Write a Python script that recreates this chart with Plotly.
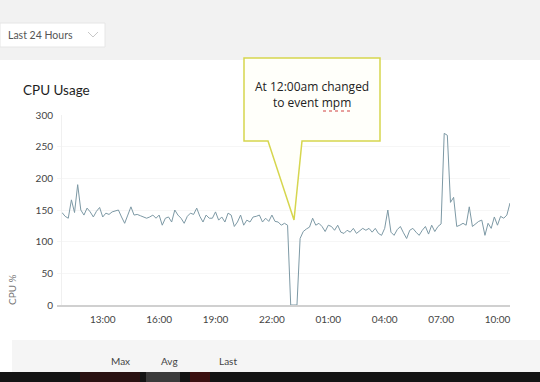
import pandas as pd
import plotly.graph_objects as go

# ---- data ----
start_time = "2019-05-13 10:50"
step = "10min"
cpu_values = [
    146, 140, 137, 166, 146, 190, 150, 142, 153, 147,
    139, 148, 154, 139, 145, 143, 147, 149, 150, 139,
    129, 142, 155, 142, 143, 141, 139, 137, 139, 142,
    137, 142, 126, 137, 139, 131, 150, 142, 137, 129,
    140, 145, 143, 153, 140, 131, 142, 137, 137, 147,
    134, 139, 131, 145, 142, 124, 131, 142, 126, 134,
    131, 139, 140, 142, 131, 137, 132, 142, 132, 131,
    126, 129, 126, 0, 0, 0, 105, 116, 120, 123,
    137, 126, 129, 124, 116, 126, 124, 118, 126, 115,
    113, 118, 115, 121, 113, 117, 121, 118, 121, 115,
    121, 113, 110, 121, 150, 115, 110, 119, 124, 114,
    105, 118, 121, 115, 110, 118, 124, 112, 126, 116,
    124, 128, 271, 268, 162, 170, 124, 126, 129, 126,
    155, 124, 128, 132, 134, 110, 129, 121, 139, 126,
    140, 137, 142, 161,
]
x_tick_times = ["2019-05-13 13:00", "2019-05-13 16:00", "2019-05-13 19:00",
                "2019-05-13 22:00", "2019-05-14 01:00", "2019-05-14 04:00",
                "2019-05-14 07:00", "2019-05-14 10:00"]
x_tick_labels = ["13:00", "16:00", "19:00", "22:00", "01:00", "04:00", "07:00", "10:00"]
y_ticks = [0, 50, 100, 150, 200, 250, 300]
x_range = ["2019-05-13 10:34", "2019-05-14 10:40"]

times = pd.date_range(start=start_time, periods=len(cpu_values), freq=step)

W, H = 540, 382
def px(x):
    return x / W
def py(y):
    return 1 - y / H

fig = go.Figure()
fig.add_trace(go.Scatter(
    x=times, y=cpu_values, mode="lines",
    line=dict(color="#7d99a5", width=1),
    hoverinfo="skip", showlegend=False,
))

shapes = []
# top grey band
shapes.append(dict(type="rect", xref="paper", yref="paper", x0=0, x1=1, y0=py(60), y1=1,
                   fillcolor="#f2f2f2", line=dict(width=0), layer="below"))
# dropdown
shapes.append(dict(type="rect", xref="paper", yref="paper", x0=px(0), x1=px(105), y0=py(47), y1=py(23),
                   fillcolor="#ffffff", line=dict(color="#e6e6e6", width=1), layer="below"))
shapes.append(dict(type="path", xref="paper", yref="paper",
                   path=f"M {px(88)},{py(32)} L {px(93)},{py(37)} L {px(98)},{py(32)}",
                   line=dict(color="#c8c8c8", width=1)))
# bottom grey band
shapes.append(dict(type="rect", xref="paper", yref="paper", x0=px(12), x1=1, y0=py(372), y1=py(340),
                   fillcolor="#f5f5f5", line=dict(width=0), layer="below"))
# black taskbar
shapes.append(dict(type="rect", xref="paper", yref="paper", x0=0, x1=1, y0=0, y1=py(372),
                   fillcolor="#141414", line=dict(width=0), layer="above"))
shapes.append(dict(type="rect", xref="paper", yref="paper", x0=px(80), x1=px(140), y0=0, y1=py(372),
                   fillcolor="#2a1212", line=dict(width=0), layer="above"))
shapes.append(dict(type="rect", xref="paper", yref="paper", x0=px(146), x1=px(180), y0=0, y1=py(372),
                   fillcolor="#3a3a3a", line=dict(width=0), layer="above"))
shapes.append(dict(type="rect", xref="paper", yref="paper", x0=px(190), x1=px(210), y0=0, y1=py(372),
                   fillcolor="#3a1010", line=dict(width=0), layer="above"))
# callout box
callout = (f"M {px(244)},{py(58)} L {px(380)},{py(58)} L {px(380)},{py(141)} "
           f"L {px(302)},{py(141)} L {px(294)},{py(220)} L {px(268)},{py(141)} "
           f"L {px(244)},{py(141)} Z")
shapes.append(dict(type="path", xref="paper", yref="paper", path=callout,
                   fillcolor="#fffffa", line=dict(color="#d6d64e", width=1.5), layer="above"))
# red squiggle under mpm
shapes.append(dict(type="line", xref="paper", yref="paper", x0=px(323), x1=px(352), y0=py(111), y1=py(111),
                   line=dict(color="#d04040", width=1, dash="dot"), layer="above"))

annotations = [
    dict(text="Last 24 Hours", x=px(6), y=py(35), xref="paper", yref="paper", xanchor="left",
         yanchor="middle", showarrow=False, font=dict(family="Lato", size=10.5, color="#555555")),
    dict(text="CPU Usage", x=px(21), y=py(90), xref="paper", yref="paper", xanchor="left",
         yanchor="middle", showarrow=False, font=dict(family="Lato", size=13.5, color="#1e1e1e")),
    dict(text="CPU %", x=px(12), y=py(290), xref="paper", yref="paper", textangle=-90,
         xanchor="center", yanchor="middle", showarrow=False,
         font=dict(family="Lato", size=10, color="#777777")),
    dict(text="At 12:00am changed<br>to event mpm", x=px(312), y=py(95), xref="paper", yref="paper",
         xanchor="center", yanchor="middle", showarrow=False, align="center",
         font=dict(family="Open Sans", size=12, color="#222222")),
]
for lbl, xx in zip(["Max", "Avg", "Last"], [120, 169, 228]):
    annotations.append(dict(text=lbl, x=px(xx), y=py(361), xref="paper", yref="paper",
                            xanchor="center", yanchor="middle", showarrow=False,
                            font=dict(family="Lato", size=10, color="#444444")))

fig.update_layout(
    width=W, height=H,
    margin=dict(l=0, r=0, t=0, b=0, autoexpand=False),
    paper_bgcolor="#ffffff", plot_bgcolor="#ffffff",
    shapes=shapes, annotations=annotations,
    xaxis=dict(domain=[px(57), px(510)], range=x_range, type="date",
               tickvals=x_tick_times, ticktext=x_tick_labels, automargin=False,
               showgrid=False, zeroline=False, showline=True, linecolor="#d0d0d0", linewidth=1.5,
               ticks="", ticklabelstandoff=4, fixedrange=True,
               tickfont=dict(family="Lato", size=10, color="#444444")),
    yaxis=dict(domain=[py(305), py(115)], range=[0, 300], tickvals=y_ticks,
               anchor="free", position=px(61), automargin=False,
               showgrid=True, gridcolor="#f6f6f6", zeroline=False,
               showline=True, linecolor="#f0f0f0", linewidth=1,
               ticks="", ticklabelstandoff=6, fixedrange=True,
               tickfont=dict(family="Lato", size=10, color="#444444")),
    hovermode=False,
)

fig.write_html("out.html", config={"displayModeBar": False, "staticPlot": True},
               post_script="document.body.style.margin='0px';")
